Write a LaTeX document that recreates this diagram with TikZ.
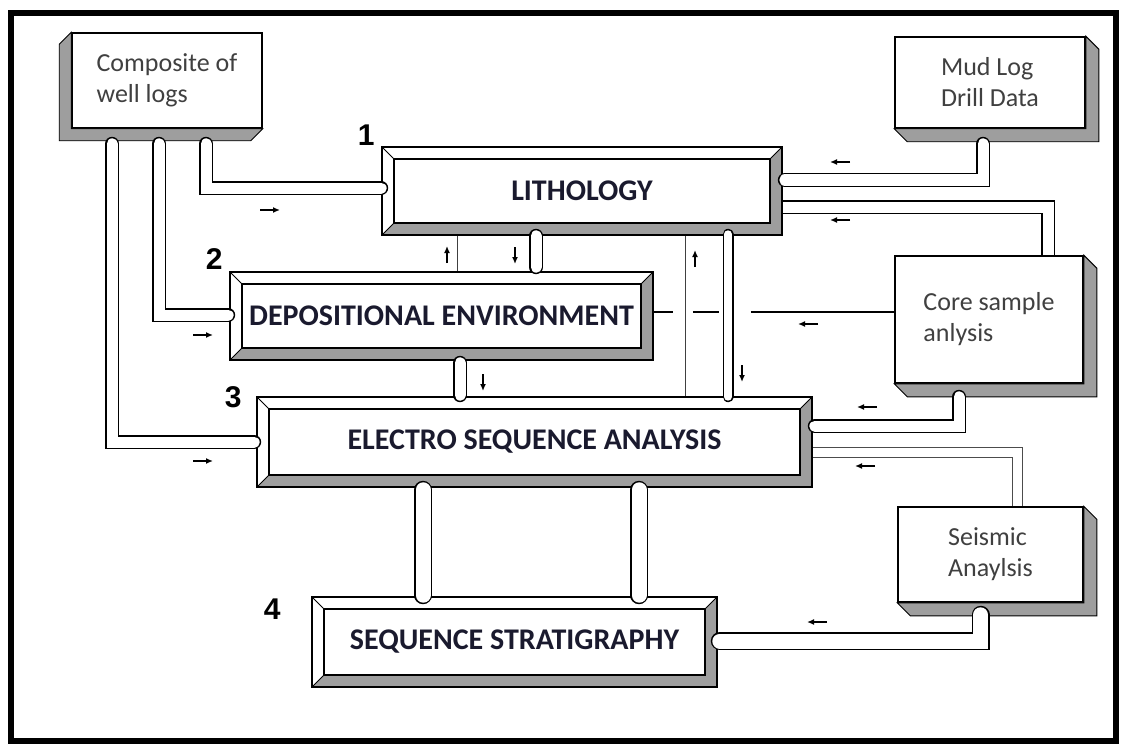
\documentclass[tikz,border=0pt]{standalone}
\usepackage{fontspec}
\setmainfont{Carlito}
\newfontfamily\numfont{Liberation Sans}
\usetikzlibrary{arrows,arrows.meta,calc}
\definecolor{inkblue}{RGB}{26,26,46}
\tikzset{
    bevelfill/.style={
           fill=black!38,
           draw=black, line width=0.9pt,
           },
}
\tikzset{
    stagebox/.style={
           rectangle,
           draw, line width=1.6pt,
           fill=white,
           inner sep=0pt,
           font=\bfseries\fontsize{30}{32}\selectfont,
           text=inkblue,
           path picture={
              \path (path picture bounding box.south west) coordinate (bsw)
                    (path picture bounding box.south east) coordinate (bse)
                    (path picture bounding box.north east) coordinate (bne)
                    (path picture bounding box.north west) coordinate (bnw);
              \filldraw[bevelfill] (bsw) -- ++(12pt,12pt) -- ([shift={(-12pt,12pt)}]bse)
                  -- ([shift={(-12pt,-12pt)}]bne) -- (bne) -- (bse) -- cycle;
              \draw[line width=1.3pt] ([shift={(12pt,12pt)}]bsw) rectangle ([shift={(-12pt,-12pt)}]bne);
              \draw[line width=0.9pt] (bnw) -- ++(12pt,-12pt);
           },
           },
}
\tikzset{
    srcbox/.style={
           rectangle,
           draw, line width=1.6pt,
           fill=white,
           inner sep=0pt,
           align=left,
           font=\fontsize{26}{31}\selectfont,
           text=black!75,
           },
    numlab/.style={
           font=\numfont\bfseries\fontsize{30}{30}\selectfont,
           inner sep=0pt,
           },
    tube/.style={
           double=white, double distance=11pt,
           line width=1.5pt, line cap=round,
           },
    thinline/.style={line width=1pt, draw=black!75},
    flowarrow/.style={-{Latex[length=7pt,width=6pt]}, line width=1.4pt},
}
\begin{document}
\begin{tikzpicture}[x=1pt,y=-1pt]
\useasboundingbox (0,0) rectangle (1123,746);
\draw[line width=5.5pt] (11,13) rectangle (1116,741);

% process stages
\node[stagebox, minimum width=400pt, minimum height=88pt] (lith) at (582,191) {LITHOLOGY};
\node[stagebox, minimum width=423pt, minimum height=88pt] (dep) at (441.5,316) {DEPOSITIONAL ENVIRONMENT};
\node[stagebox, minimum width=555pt, minimum height=90pt] (elec) at (534.5,442) {ELECTRO SEQUENCE ANALYSIS};
\node[stagebox, minimum width=405pt, minimum height=90pt] (seq) at (514.5,642) {SEQUENCE STRATIGRAPHY};

\node[numlab] (n1) at ([shift={(-15,-11)}]lith.north west) {1};
\node[numlab] (n2) at ([shift={(-15,-12)}]dep.north west) {2};
\node[numlab] (n3) at ([shift={(-23,1)}]elec.north west) {3};
\node[numlab] (n4) at ([shift={(-39,13)}]seq.north west) {4};

% data sources
\node[srcbox, minimum width=190pt, minimum height=95pt] (comp) at (167,80.5) {Composite of\\well logs};
\node[srcbox, minimum width=190pt, minimum height=91pt] (mud) at (990,82.5) {Mud Log\\Drill Data};
\node[srcbox, minimum width=188pt, minimum height=127pt] (core) at (989,319.5) {Core sample\\anlysis};
\node[srcbox, minimum width=185pt, minimum height=95pt] (seis) at (990.5,554.5) {Seismic\\Anaylsis};

\filldraw[bevelfill] (comp.north west) -- ++(-12,12) -- ([shift={(-12,12)}]comp.south west)
    -- ([shift={(-12,12)}]comp.south east) -- (comp.south east) -- (comp.south west) -- cycle;
\foreach \b in {mud,core,seis}
    \filldraw[bevelfill] (\b.north east) -- ++(13,13) -- ([shift={(13,13)}]\b.south east)
        -- ([shift={(13,13)}]\b.south west) -- (\b.south west) -- (\b.south east) -- cycle;

% links between stages
\coordinate (v1) at ($(lith.south)+(-125,0)$);
\coordinate (v2) at ($(lith.south)+(-46,0)$);
\coordinate (v3) at ($(lith.south)+(103,0)$);
\coordinate (v4) at ($(lith.south)+(146,0)$);
\coordinate (v5) at ($(dep.south)+(18.5,0)$);
\coordinate (v6) at ($(elec.south)+(-111.5,0)$);
\coordinate (v7) at ($(elec.south)+(104.5,0)$);
\coordinate (cl) at ($(dep.east)+(0,-4)$);

\draw[line width=1.8pt] (cl) -- ++(19,0) ++(20,0) -- ++(26,0) ++(32,0) -- (cl -| core.west);
\draw[thinline] (v1) -- (v1 |- dep.north);
\draw[thinline] (v3) -- (v3 |- elec.north);
\draw[tube] (v2) -- ($(v2 |- dep.north)+(0,-4)$);
\draw[tube, double distance=8pt] ($(v4)+(0,-1.5)$) -- ($(v4 |- elec.north)+(0,0.5)$);
\draw[tube] ($(v5)+(0,2)$) -- ($(v5 |- elec.north)+(0,-1)$);
\draw[tube, double distance=15pt] ($(v6)+(0,2)$) -- ($(v6 |- seq.north)+(0,-1)$);
\draw[tube, double distance=15pt] ($(v7)+(0,2)$) -- ($(v7 |- seq.north)+(0,-1)$);

% links from sources
\draw[tube] ([shift={(39,15)}]comp.south) |- ([shift={(0,-3)}]lith.west);
\draw[tube] ([shift={(-8,15)}]comp.south) |- ([shift={(-1,-1)}]dep.west);
\draw[tube] ([shift={(-55,15)}]comp.south) |- ([shift={(-2,0)}]elec.west);
\draw[tube] ([shift={(-7,15)}]mud.south) |- ([shift={(2,-11)}]lith.east);
\draw[tube, line cap=butt] ([shift={(59,0)}]core.north) |- ([shift={(0,16)}]lith.east);
\draw[tube] ([shift={(-30,13)}]core.south) |- ([shift={(2,-16)}]elec.east);
\draw[tube, line cap=butt, line width=1pt, draw=black!70, double distance=9pt] ([shift={(27,0)}]seis.north) |- ([shift={(0,10)}]elec.east);
\draw[tube, double distance=15pt] ([shift={(-10,12)}]seis.south) |- ([shift={(2,-1)}]seq.east);

% flow marks
\foreach \x/\y in {260/210,193/335,193/461}
    \draw[flowarrow] (\x,\y) -- ++(20,0);
\foreach \x/\y in {850/162,850/220,818/324,877/407,875/466,827/622}
    \draw[flowarrow] (\x,\y) -- ++(-20,0);
\foreach \x/\y in {447/263,695/267}
    \draw[flowarrow] (\x,\y) -- ++(0,-17);
\foreach \x/\y in {515/247,742/365,483/374}
    \draw[flowarrow] (\x,\y) -- ++(0,17);
\end{tikzpicture}
\end{document}
